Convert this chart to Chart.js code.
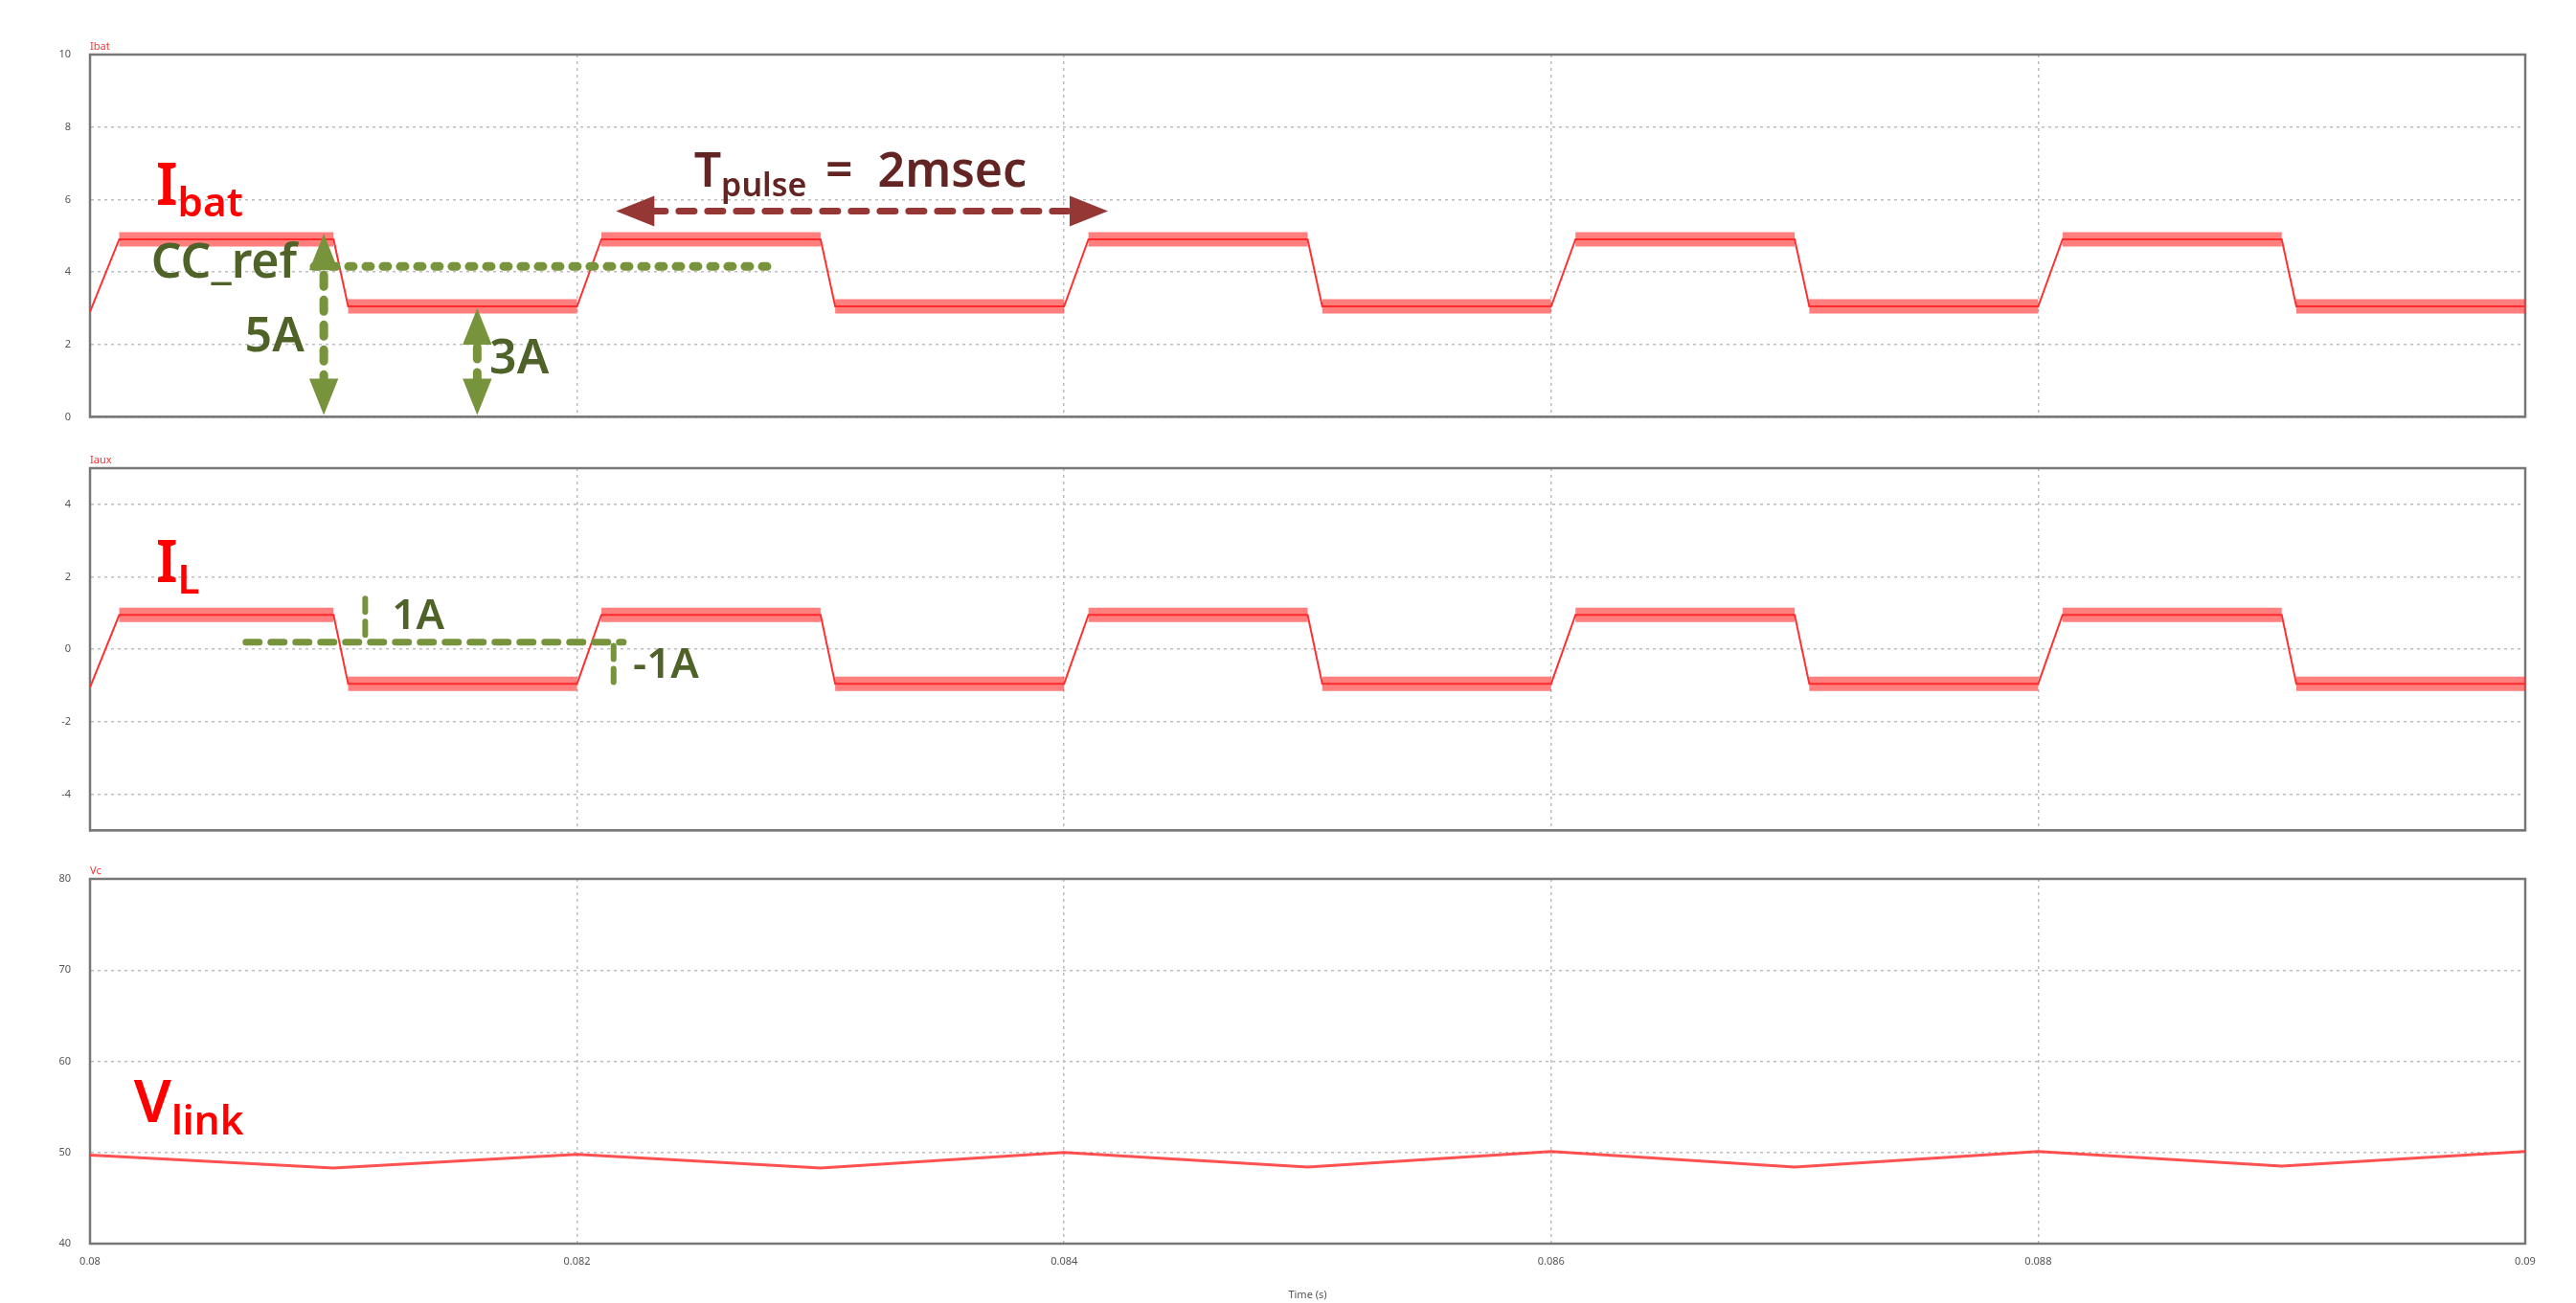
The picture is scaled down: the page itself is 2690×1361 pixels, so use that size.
<!DOCTYPE html>
<html><head><meta charset="utf-8">
<script src="https://cdn.jsdelivr.net/npm/chart.js@4/dist/chart.umd.min.js"></script>
<style>
body{margin:0;background:#fff;width:2690px;height:1361px;overflow:hidden;position:relative;font-family:"Noto Sans",sans-serif}
.p{position:absolute;left:0;width:2690px}
.t{position:absolute;left:94px;color:#ff3030;font:11px "Noto Sans",sans-serif}
</style></head><body>
<div class="p" style="top:0;height:462px"><canvas id="c1"></canvas></div>
<div class="p" style="top:432px;height:462px"><canvas id="c2"></canvas></div>
<div class="p" style="top:870px;height:491px"><canvas id="c3"></canvas></div>
<div class="t" style="top:40px">Ibat</div>
<div class="t" style="top:472px">Iaux</div>
<div class="t" style="top:901px">Vc</div>
<script>
const xTicks = [0.08, 0.082, 0.084, 0.086, 0.088, 0.09];
const waveT = [0.08, 0.08012, 0.081, 0.08106, 0.082, 0.0821, 0.083, 0.08306, 0.084, 0.0841, 0.085, 0.08506,
  0.086, 0.0861, 0.087, 0.08706, 0.088, 0.0881, 0.089, 0.08906, 0.09];
const ibatV = [2.9, 4.9, 4.9, 3.05, 3.05, 4.9, 4.9, 3.05, 3.05, 4.9, 4.9, 3.05, 3.05, 4.9, 4.9, 3.05, 3.05, 4.9, 4.9, 3.05, 3.05];
const ilV = [-1.05, 0.95, 0.95, -0.95, -0.95, 0.95, 0.95, -0.95, -0.95, 0.95, 0.95, -0.95, -0.95, 0.95, 0.95, -0.95, -0.95, 0.95, 0.95, -0.95, -0.95];
const vlinkT = [0.08, 0.081, 0.082, 0.083, 0.084, 0.085, 0.086, 0.087, 0.088, 0.089, 0.09];
const vlinkV = [49.7, 48.3, 49.8, 48.3, 50.0, 48.4, 50.1, 48.4, 50.1, 48.5, 50.1];

const pts = (t, v) => t.map((x, i) => ({ x, y: v[i] }));
function band(t, v){
  const out = [];
  for (let k = 1; k < t.length - 1; k += 2){
    out.push({ x: t[k], y: v[k] }, { x: t[k + 1], y: v[k + 1] }, { x: t[k + 1], y: null });
  }
  return out;
}

const GREEN = '#77933c', GTXT = '#4f6228', DRED = '#953735';

function txt(c, x, y, main, sub, color, size, align){
  const ctx = c.ctx, px = c.scales.x.getPixelForValue(x), py = c.scales.y.getPixelForValue(y);
  ctx.save(); ctx.fillStyle = color; ctx.textBaseline = 'alphabetic';
  ctx.font = `600 ${size}px "Noto Sans", sans-serif`;
  const w1 = ctx.measureText(main).width;
  ctx.font = `600 ${size * 0.68}px "Noto Sans", sans-serif`;
  const w2 = sub ? ctx.measureText(sub).width : 0;
  const x0 = align === 'right' ? px - w1 - w2 : align === 'center' ? px - (w1 + w2) / 2 : px;
  ctx.font = `600 ${size}px "Noto Sans", sans-serif`;
  ctx.fillText(main, x0, py);
  if (sub){ ctx.font = `600 ${size * 0.68}px "Noto Sans", sans-serif`; ctx.fillText(sub, x0 + w1, py + size * 0.2); }
  ctx.restore();
}
function dline(c, x1, y1, x2, y2, color, w, dash){
  const ctx = c.ctx, s = c.scales;
  ctx.save(); ctx.strokeStyle = color; ctx.lineWidth = w; ctx.setLineDash(dash); ctx.lineCap = 'round';
  ctx.beginPath(); ctx.moveTo(s.x.getPixelForValue(x1), s.y.getPixelForValue(y1));
  ctx.lineTo(s.x.getPixelForValue(x2), s.y.getPixelForValue(y2)); ctx.stroke(); ctx.restore();
}
function head(c, x, y, dir, color, len){
  const ctx = c.ctx, px = c.scales.x.getPixelForValue(x), py = c.scales.y.getPixelForValue(y);
  const d = { u: [0, -1], d: [0, 1], l: [-1, 0], r: [1, 0] }[dir];
  ctx.save(); ctx.fillStyle = color; ctx.beginPath();
  ctx.moveTo(px, py);
  ctx.lineTo(px - d[0] * len - d[1] * len * 0.4, py - d[1] * len - d[0] * len * 0.4);
  ctx.lineTo(px - d[0] * len + d[1] * len * 0.4, py - d[1] * len + d[0] * len * 0.4);
  ctx.closePath(); ctx.fill(); ctx.restore();
}

function makeChart(id, datasets, ymin, ymax, step, tickStart, showX, padTop, annot){
  const grid = { color: '#bdbdbd', lineWidth: 1.5, drawTicks: false };
  const border = { color: '#888', width: 2, dash: [3, 4] };
  return new Chart(document.getElementById(id), {
    type: 'line',
    data: { datasets },
    options: {
      responsive: true, maintainAspectRatio: false, animation: false,
      layout: { padding: { top: padTop, right: 53, bottom: 0, left: 0 } },
      elements: { point: { radius: 0 } },
      plugins: { legend: { display: false }, tooltip: { enabled: false } },
      scales: {
        x: {
          type: 'linear', min: 0.08, max: 0.09,
          afterBuildTicks: s => { s.ticks = xTicks.map(value => ({ value })); },
          afterFit: s => { s.height = showX ? 62 : 12; },
          ticks: { display: showX, color: '#555', font: { size: 11 }, padding: 12, callback: v => String(Number(v.toFixed(3))) },
          title: { display: showX, text: 'Time (s)', color: '#555', font: { size: 11 }, padding: 2 },
          grid, border
        },
        y: {
          min: ymin, max: ymax,
          afterBuildTicks: s => { const t = []; for (let v = tickStart; v <= ymax + 1e-9; v += step) t.push({ value: v }); s.ticks = t; },
          afterFit: s => { s.width = 94; },
          ticks: { color: '#555', font: { size: 11 }, padding: 20 },
          grid, border
        }
      }
    },
    plugins: [{
      id: 'frame',
      beforeDatasetsDraw: c => {
        const a = c.chartArea, ctx = c.ctx;
        ctx.save(); ctx.setLineDash([]); ctx.strokeStyle = '#777'; ctx.lineWidth = 2.5; ctx.strokeRect(a.left, a.top, a.width, a.height); ctx.restore();
      },
      afterDatasetsDraw: c => annot && annot(c)
    }]
  });
}
Chart.defaults.font.family = '"Noto Sans", sans-serif';

function ds(data, color, w){ return { data, borderColor: color, borderWidth: w, tension: 0, spanGaps: false, fill: false }; }

makeChart('c1', [
  ds(band(waveT, ibatV), 'rgba(255,40,40,0.6)', 15),
  ds(pts(waveT, ibatV), '#ff3030', 2)
], 0, 10, 2, 0, false, 57, c => {
  txt(c, 0.08027, 5.85, 'I', 'bat', '#ff0000', 62, 'left');
  dline(c, 0.08092, 4.15, 0.0828, 4.15, GREEN, 9, [5, 13]);
  txt(c, 0.08085, 3.85, 'CC_ref', '', GTXT, 50, 'right');
  dline(c, 0.08096, 4.6, 0.08096, 0.5, GREEN, 9, [12, 14]);
  head(c, 0.08096, 5.05, 'u', GREEN, 38); head(c, 0.08096, 0.05, 'd', GREEN, 38);
  txt(c, 0.08088, 1.8, '5A', '', GTXT, 50, 'right');
  dline(c, 0.08159, 2.6, 0.08159, 0.5, GREEN, 9, [12, 14]);
  head(c, 0.08159, 3.0, 'u', GREEN, 38); head(c, 0.08159, 0.05, 'd', GREEN, 38);
  txt(c, 0.08164, 1.2, '3A', '', GTXT, 50, 'left');
  dline(c, 0.0823, 5.68, 0.08403, 5.68, DRED, 7, [16, 14]);
  head(c, 0.08216, 5.68, 'l', DRED, 40); head(c, 0.08418, 5.68, 'r', DRED, 40);
  txt(c, 0.08248, 6.35, 'T', 'pulse', '#632523', 50, 'left');
  txt(c, 0.08302, 6.35, '=  2msec', '', '#632523', 50, 'left');
});

makeChart('c2', [
  ds(band(waveT, ilV), 'rgba(255,40,40,0.6)', 15),
  ds(pts(waveT, ilV), '#ff3030', 2)
], -5, 5, 2, -4, false, 57, c => {
  txt(c, 0.08027, 1.86, 'I', 'L', '#ff0000', 62, 'left');
  dline(c, 0.08064, 0.2, 0.08219, 0.2, GREEN, 7, [14, 12]);
  dline(c, 0.08113, 1.4, 0.08113, 0.3, GREEN, 6, [14, 10]);
  txt(c, 0.08124, 0.55, '1A', '', GTXT, 44, 'left');
  dline(c, 0.08215, 0.1, 0.08215, -0.95, GREEN, 6, [14, 10]);
  txt(c, 0.08223, -0.8, '-1A', '', GTXT, 44, 'left');
});

makeChart('c3', [
  ds(pts(vlinkT, vlinkV), 'rgba(255,50,50,0.85)', 3)
], 40, 80, 10, 40, true, 48, c => {
  txt(c, 0.08018, 53.3, 'V', 'link', '#ff0000', 62, 'left');
});
</script></body></html>
